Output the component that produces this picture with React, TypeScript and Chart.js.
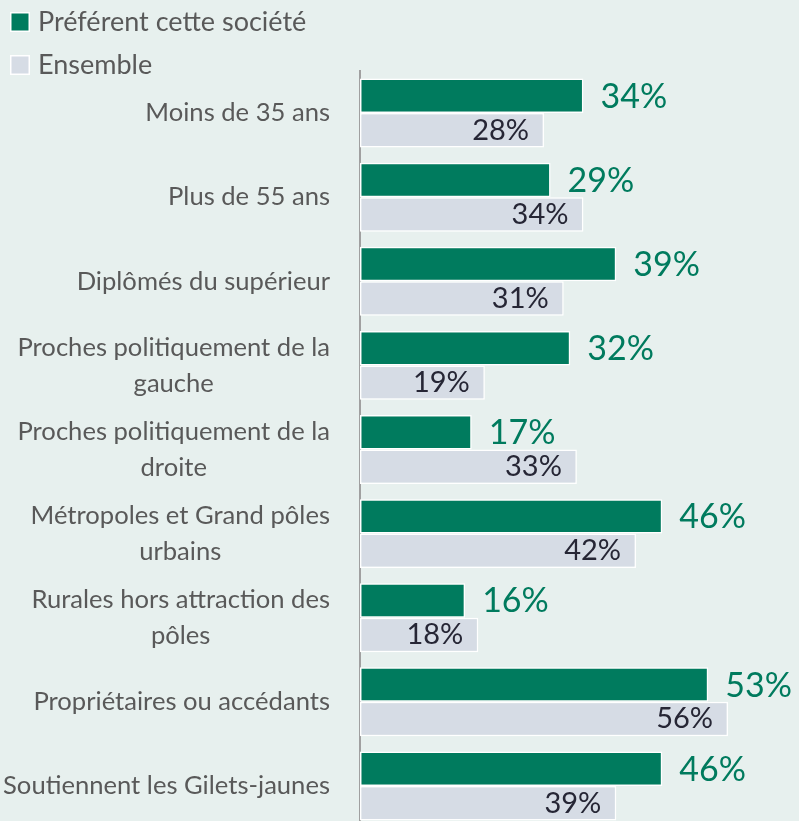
import React, { useEffect, useRef } from "react";
import { Chart, registerables } from "chart.js";

Chart.register(...registerables);

const categories: string[][] = [
  ["Moins de 35 ans"],
  ["Plus de 55 ans"],
  ["Diplômés du supérieur"],
  ["Proches politiquement de la", "gauche"],
  ["Proches politiquement de la", "droite"],
  ["Métropoles et Grand pôles", "urbains"],
  ["Rurales hors attraction des", "pôles"],
  ["Propriétaires ou accédants"],
  ["Soutiennent les Gilets-jaunes"],
];
const seriesNames = ["Préférent cette société", "Ensemble"];
const preferValues = [34, 29, 39, 32, 17, 46, 16, 53, 46];
const ensembleValues = [28, 34, 31, 19, 33, 42, 18, 56, 39];

const GREEN = "#007b5e";
const GREY = "#d6dce5";
const BG = "#e7f0ee";
const TEXT = "#595959";
const DARK = "#262635";
const FONT = "Lato, 'Noto Sans', sans-serif";

const categoryLabelsPlugin = {
  id: "categoryLabels",
  afterDraw(chart: any) {
    const { ctx } = chart;
    const yScale = chart.scales.y;
    const right = 330;
    const lineH = 36;
    ctx.save();
    ctx.font = `25.6px ${FONT}`;
    ctx.fillStyle = TEXT;
    ctx.textAlign = "center";
    ctx.textBaseline = "middle";
    categories.forEach((lines, i) => {
      const cy = yScale.getPixelForValue(i);
      const w = Math.max(...lines.map((l) => ctx.measureText(l).width));
      const cx = right - w / 2;
      lines.forEach((l, j) => {
        ctx.fillText(l, cx, cy + (j - (lines.length - 1) / 2) * lineH);
      });
    });
    ctx.restore();
  },
};

const legendPlugin = {
  id: "stackedLegend",
  afterDraw(chart: any) {
    const { ctx } = chart;
    const rows = [22, 65];
    ctx.save();
    chart.data.datasets.forEach((ds: any, i: number) => {
      const cy = rows[i];
      ctx.fillStyle = "#ffffff";
      ctx.fillRect(10, cy - 10, 20, 20);
      ctx.fillStyle = ds.backgroundColor;
      ctx.fillRect(11.5, cy - 8.5, 17, 17);
      ctx.font = `27px ${FONT}`;
      ctx.fillStyle = TEXT;
      ctx.textAlign = "left";
      ctx.textBaseline = "middle";
      ctx.fillText(ds.label, 38, cy);
    });
    ctx.restore();
  },
};

const valueLabelsPlugin = {
  id: "valueLabels",
  afterDatasetsDraw(chart: any) {
    const { ctx } = chart;
    ctx.save();
    ctx.textBaseline = "middle";
    chart.data.datasets.forEach((ds: any, di: number) => {
      const meta = chart.getDatasetMeta(di);
      meta.data.forEach((bar: any, i: number) => {
        const text = `${ds.data[i]}%`;
        if (di === 0) {
          ctx.font = `34px ${FONT}`;
          ctx.fillStyle = GREEN;
          ctx.textAlign = "left";
          ctx.fillText(text, bar.x + 17, bar.y + 1);
        } else {
          ctx.font = `29px ${FONT}`;
          ctx.fillStyle = DARK;
          ctx.textAlign = "right";
          ctx.fillText(text, bar.x - 15, bar.y);
        }
      });
    });
    ctx.restore();
  },
};

export default function App() {
  const ref = useRef<HTMLCanvasElement | null>(null);
  useEffect(() => {
    if (!ref.current) return;
    const chart = new Chart(ref.current, {
      type: "bar",
      data: {
        labels: categories.map((c) => c.join(" ")),
        datasets: [
          {
            label: seriesNames[0],
            data: preferValues,
            backgroundColor: GREEN,
            borderColor: "#ffffff",
            borderWidth: 1.5,
            borderSkipped: false,
            categoryPercentage: 0.82,
            barPercentage: 1,
          },
          {
            label: seriesNames[1],
            data: ensembleValues,
            backgroundColor: GREY,
            borderColor: "#ffffff",
            borderWidth: 1.5,
            borderSkipped: false,
            categoryPercentage: 0.82,
            barPercentage: 1,
          },
        ],
      },
      options: {
        indexAxis: "y",
        responsive: false,
        animation: false,
        layout: { padding: { top: 71, right: 0, bottom: 0, left: 0 } },
        plugins: {
          legend: { display: false },
          tooltip: { enabled: false },
          title: { display: false },
        },
        scales: {
          x: {
            display: false,
            min: 0,
            max: 66.8,
          },
          y: {
            grid: { display: false },
            border: { display: true, color: "#a0a0a0", width: 2 },
            ticks: { display: false },
            afterFit: (scale: any) => {
              scale.width = 360;
            },
          },
        },
      },
      plugins: [categoryLabelsPlugin, legendPlugin, valueLabelsPlugin],
    });
    return () => chart.destroy();
  }, []);
  return (
    <div
      style={{
        position: "fixed",
        left: 0,
        top: 0,
        width: 799,
        height: 821,
        overflow: "hidden",
        background: BG,
      }}
    >
      <canvas ref={ref} width={799} height={828} style={{ display: "block" }} />
    </div>
  );
}
